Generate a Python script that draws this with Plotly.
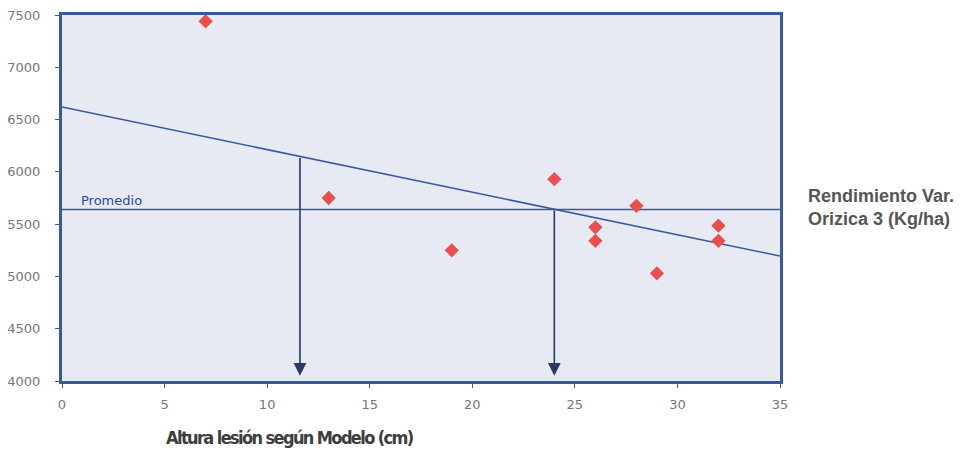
import plotly.graph_objects as go

# Data
altura = [7, 13, 19, 24, 26, 26, 28, 29, 32, 32]
rendimiento = [7440, 5750, 5250, 5930, 5470, 5340, 5675, 5030, 5485, 5340]

reg_x = [0, 35]
reg_y = [6620, 5195]

promedio_x = [0, 35]
promedio_y = [5640, 5640]

arrow_x = [11.6, 24]
arrow_top = [6148, 5645]
arrow_bottom = 4050

x_ticks = [0, 5, 10, 15, 20, 25, 30, 35]
y_ticks = [4000, 4500, 5000, 5500, 6000, 6500, 7000, 7500]

line_color = "#3a58a0"

fig = go.Figure()

fig.add_trace(go.Scatter(x=reg_x, y=reg_y, mode="lines",
                         line=dict(color=line_color, width=1.6), showlegend=False))
fig.add_trace(go.Scatter(x=promedio_x, y=promedio_y, mode="lines",
                         line=dict(color=line_color, width=1.6), showlegend=False))

for ax, at in zip(arrow_x, arrow_top):
    fig.add_annotation(x=ax, y=arrow_bottom, ax=ax, ay=at, xref="x", yref="y",
                       axref="x", ayref="y", showarrow=True, arrowhead=2,
                       arrowsize=1.6, arrowwidth=1.6, arrowcolor="#2c3a66", text="")

fig.add_trace(go.Scatter(x=altura, y=rendimiento, mode="markers",
                         marker=dict(symbol="diamond", size=11, color="#e8504f",
                                     line=dict(width=0)),
                         showlegend=False))

fig.add_annotation(x=0.85, y=promedio_y[0], xref="x", yref="y", text="Promedio",
                   showarrow=False, xanchor="left", yanchor="bottom",
                   font=dict(family="DejaVu Sans", size=13, color="#2a4a9a"))

fig.add_annotation(x=1.036, y=0.475, xref="paper", yref="paper",
                   text="<b>Rendimiento Var.<br>Orizica 3 (Kg/ha)</b>",
                   showarrow=False, xanchor="left", yanchor="middle", align="left",
                   font=dict(family="Liberation Sans", size=18, color="#555555"))

fig.add_annotation(x=0.318, y=-0.155, xref="paper", yref="paper",
                   text="<span style=\"letter-spacing:-1.6px\"><b>Altura lesión según Modelo (cm)</b></span>",
                   showarrow=False, xanchor="center", yanchor="middle",
                   font=dict(family="DejaVu Sans Condensed, Liberation Sans",
                             size=18, color="#3d3d3d"))

fig.update_layout(
    width=969, height=453,
    margin=dict(l=54, r=197, t=7, b=80),
    paper_bgcolor="white",
    plot_bgcolor="#e7eaf3",
    font=dict(family="Liberation Sans", color="#555555"),
    xaxis=dict(range=[0, 35], tickvals=x_ticks, ticks="outside", ticklen=4,
               tickcolor=line_color, showgrid=False, zeroline=False,
               showline=True, linecolor=line_color, linewidth=3, mirror=True,
               automargin=False, ticklabelstandoff=5, ticklabeloverflow="allow",
               tickfont=dict(family="DejaVu Sans", size=13, color="#777777")),
    yaxis=dict(range=[4000, 7500], tickvals=y_ticks, ticks="outside", ticklen=4,
               tickcolor=line_color, showgrid=False, zeroline=False,
               showline=True, linecolor=line_color, linewidth=3, mirror=True,
               automargin=False, ticklabelstandoff=12, ticklabeloverflow="allow",
               tickfont=dict(family="DejaVu Sans", size=13, color="#777777")),
)

fig.write_html("out.html")
